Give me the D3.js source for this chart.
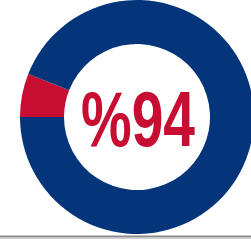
<!DOCTYPE html>
<html>
<head>
<meta charset="utf-8">
<script src="https://cdn.jsdelivr.net/npm/d3@7"></script>
<style>
  html, body { margin: 0; padding: 0; background: #fff; overflow: hidden; }
</style>
</head>
<body>
<script>
var width = 251;
var height = 240;

// slices: red part first, then the blue remainder
var categories = ["other", "yes"];
var values = [6, 94];
var sliceColors = ["#c70d32", "#04357a"];
var label = "%94";

var cx = 137, cy = 117;
var outerR = 117, innerR = 73;

var svg = d3.select("body")
    .append("svg")
    .attr("width", width)
    .attr("height", height);

var pie = d3.pie()
    .sort(null)
    .startAngle(-Math.PI / 2)
    .endAngle(Math.PI * 1.5);

var arc = d3.arc()
    .innerRadius(innerR)
    .outerRadius(outerR);

var g = svg.append("g")
    .attr("transform", "translate(" + cx + "," + cy + ")");

g.selectAll("path")
    .data(pie(values))
    .enter()
    .append("path")
    .attr("d", arc)
    .attr("fill", function(d, i) { return sliceColors[i]; });

g.append("text")
    .attr("x", 1)
    .attr("y", 29)
    .attr("text-anchor", "middle")
    .attr("font-family", "'Liberation Sans Narrow', 'Liberation Sans', Arial, sans-serif")
    .attr("font-weight", "bold")
    .attr("font-size", 78)
    .attr("textLength", 114)
    .attr("lengthAdjust", "spacingAndGlyphs")
    .attr("fill", "#c70d32")
    .text(label);

// baseline rule at the bottom
svg.append("line")
    .attr("x1", 0).attr("x2", width)
    .attr("y1", 236.5).attr("y2", 236.5)
    .attr("stroke", "#8a8a8a")
    .attr("stroke-width", 2);
svg.append("line")
    .attr("x1", 0).attr("x2", width)
    .attr("y1", 238.5).attr("y2", 238.5)
    .attr("stroke", "#d0d0d0")
    .attr("stroke-width", 1);
</script>
</body>
</html>
